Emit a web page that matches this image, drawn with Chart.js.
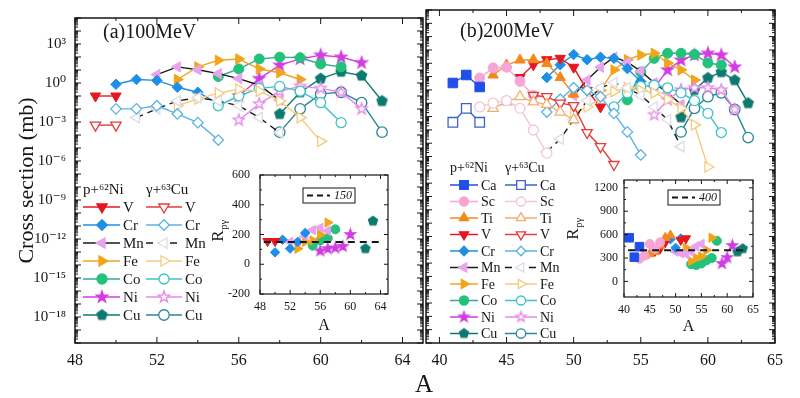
<!DOCTYPE html>
<html>
<head>
<meta charset="utf-8">
<script src="https://cdn.jsdelivr.net/npm/chart.js@4.4.0/dist/chart.umd.min.js"></script>
<style>
  body { margin: 0; background: #fff; }
  #wrap { position: relative; width: 800px; height: 398px; }
  #wrap canvas { position: absolute; left: 0; top: 0; }
</style>
</head>
<body>
<div id="wrap">
  <canvas id="mainA" width="800" height="398"></canvas>
  <canvas id="mainB" width="800" height="398"></canvas>
  <canvas id="insetA" width="800" height="398"></canvas>
  <canvas id="insetB" width="800" height="398"></canvas>
</div>
<script>
// ---- panel (a) 100 MeV : log10(cross section / mb), p+62Ni (p) and gamma+63Cu (g)
const aP100_V = [49, 50];                          const p100_V = [-1.0, -1.0];
const aG100_V = [49, 50];                          const g100_V = [-3.24, -3.24];
const aP100_Cr = [50, 51, 52, 53, 54, 55];         const p100_Cr = [-0.10, 0.27, 0.20, -0.33, -0.71, -1.61];
const aG100_Cr = [50, 51, 52, 53, 54, 55];         const g100_Cr = [-1.99, -1.99, -1.75, -2.38, -3.05, -4.39];
const aP100_Mn = [52, 53, 54, 55, 56, 57, 58];     const p100_Mn = [0.65, 1.24, 1.02, 0.72, 0.34, -0.17, -1.32];
const aG100_Mn = [51, 52, 53, 54, 55, 56, 57, 58]; const g100_Mn = [-2.66, -1.99, -1.38, -1.13, -1.38, -1.75, -2.66, -3.82];
const aP100_Fe = [53, 54, 55, 56, 57, 58, 59];     const p100_Fe = [0.27, 1.24, 1.75, 1.85, 1.08, 0.79, 0.27];
const aG100_Fe = [53, 54, 55, 56, 57, 58, 59, 60]; const g100_Fe = [-1.75, -1.22, -0.78, -0.48, -0.63, -1.38, -2.66, -4.49];
const aP100_Co = [55, 56, 57, 58, 59, 60, 61];     const p100_Co = [0.50, 1.08, 1.85, 1.99, 1.94, 1.46, 1.24];
const aG100_Co = [55, 56, 57, 58, 59, 60, 61];     const g100_Co = [-1.75, -1.0, -0.41, -0.26, -0.63, -1.51, -3.05];
const aP100_Ni = [56, 57, 58, 59, 60, 61, 62];     const p100_Ni = [-1.0, 0.34, 1.37, 1.85, 2.14, 1.99, 1.56];
const aG100_Ni = [56, 57, 58, 59, 60, 61, 62];     const g100_Ni = [-2.86, -1.61, -0.63, -0.26, -0.41, -0.71, -1.99];
const aP100_Cu = [58, 59, 60, 61, 62, 63];         const p100_Cu = [-2.38, -0.71, 0.34, 0.87, 0.57, -1.38];
const aG100_Cu = [58, 59, 60, 61, 62, 63];         const g100_Cu = [-3.78, -1.99, -0.84, -0.71, -1.51, -3.78];

// ---- panel (b) 200 MeV
const aP200_Ca = [41, 42, 43];                     const p200_Ca = [-0.48, 0.12, -0.78];
const aG200_Ca = [41, 42, 43];                     const g200_Ca = [-3.43, -2.38, -3.43];
const aP200_Sc = [43, 44, 45, 46, 47];             const p200_Sc = [-0.10, 0.65, 0.70, -0.36, -1.42];
const aG200_Sc = [43, 44, 45, 46, 47, 48];         const g200_Sc = [-2.28, -1.99, -1.80, -2.38, -4.01, -5.74];
const aP200_Ti = [44, 45, 46, 47, 48, 49, 50];     const p200_Ti = [0.12, 0.87, 1.24, 1.27, 0.98, -0.07, -1.32];
const aG200_Ti = [44, 45, 46, 47, 48, 49, 50];     const g200_Ti = [-2.38, -1.90, -1.51, -1.90, -2.09, -2.66, -3.24];
const aP200_V = [46, 47, 48, 49, 50, 51, 52];      const p200_V = [-0.07, 0.89, 1.27, 1.37, 0.70, -1.03, -2.28];
const aG200_V = [47, 48, 49, 50, 51, 52, 53];      const g200_V = [-1.42, -1.51, -1.99, -2.18, -4.20, -5.26, -6.6];
const aP200_Cr = [48, 49, 50, 51, 52, 53, 54, 55]; const p200_Cr = [-0.07, 0.89, 1.66, 1.27, 1.46, 1.37, 0.60, -0.36];
const aG200_Cr = [48, 49, 50, 51, 52, 53, 54, 55]; const g200_Cr = [-2.66, -1.70, -0.84, -1.03, -1.51, -2.76, -4.15, -5.88];
const aP200_Mn = [50, 51, 52, 53, 54, 55, 56, 57, 58];
const p200_Mn = [-1.42, -0.26, 0.70, 1.46, 1.08, 0.41, -0.46, -1.22, -2.09];
const aG200_Mn = [48, 49, 50, 51, 52, 53, 54, 55, 56, 57, 58];
const g200_Mn = [-5.64, -4.68, -3.24, -1.80, -0.84, -0.46, -0.84, -1.42, -2.28, -3.24, -5.26];
const aP200_Fe = [52, 53, 54, 55, 56, 57, 58, 59]; const p200_Fe = [-1.03, 0.50, 1.27, 1.62, 1.75, 1.02, 0.50, -0.26];
const aG200_Fe = [50, 51, 52, 53, 54, 55, 56, 57, 58, 59, 60];
const g200_Fe = [-2.76, -2.28, -1.61, -1.13, -0.84, -1.03, -1.22, -1.70, -2.38, -3.62, -6.79];
const aP200_Co = [54, 55, 56, 57, 58, 59, 60, 61]; const p200_Co = [-1.75, 0.34, 1.37, 1.75, 1.75, 1.66, 1.02, 0.87];
const aG200_Co = [53, 54, 55, 56, 57, 58, 59, 60, 61];
const g200_Co = [-2.28, -1.22, -0.74, -0.65, -0.84, -1.22, -1.80, -2.76, -4.20];
const aP200_Ni = [56, 57, 58, 59, 60, 61, 62];     const p200_Ni = [-0.84, 0.50, 1.24, 1.62, 1.75, 1.62, 0.72];
const aG200_Ni = [56, 57, 58, 59, 60, 61, 62];     const g200_Ni = [-2.86, -1.75, -1.0, -0.84, -0.84, -1.0, -2.47];
const aP200_Cu = [58, 59, 60, 61, 62, 63];         const p200_Cu = [-3.05, -1.0, -0.10, 0.34, -0.26, -1.99];
const aG200_Cu = [58, 59, 60, 61, 62, 63];         const g200_Cu = [-4.15, -2.38, -1.51, -1.22, -2.47, -4.58];

// ---- insets: ratio R_p/gamma
const ia100_V = [49, 50];                 const ir100_V = [155, 155];
const ia100_Cr = [50, 51, 52, 53, 54];    const ir100_Cr = [80, 165, 105, 150, 210];
const ia100_Mn = [52, 53, 54, 55, 56, 57]; const ir100_Mn = [150, 155, 190, 230, 245, 225];
const ia100_Fe = [53, 54, 55, 56, 57];    const ir100_Fe = [105, 150, 160, 200, 280];
const ia100_Co = [55, 56, 57, 58];        const ir100_Co = [125, 160, 175, 235];
const ia100_Ni = [56, 57, 58, 59, 60];    const ir100_Ni = [90, 105, 110, 120, 200];
const ia100_Cu = [62, 63];                const ir100_Cu = [105, 290];
const ref100 = 150;  const refSpan100 = [48.5, 64.0];

const ia200_Ca = [41, 42, 43];             const ir200_Ca = [560, 310, 445];
const ia200_Sc = [43, 44, 45, 46, 47];     const ir200_Sc = [290, 330, 480, 420, 500];
const ia200_Ti = [44, 45, 46, 47, 48, 49]; const ir200_Ti = [330, 350, 380, 460, 560, 590];
const ia200_V = [46, 47, 48, 51, 52];      const ir200_V = [390, 420, 500, 530, 550];
const ia200_Cr = [48, 49, 50, 51];         const ir200_Cr = [520, 540, 430, 550];
const ia200_Mn = [50, 51, 52, 53, 54, 55]; const ir200_Mn = [380, 360, 350, 380, 450, 480];
const ia200_Fe = [52, 53, 54, 55, 56, 57]; const ir200_Fe = [430, 260, 300, 320, 400, 560];
const ia200_Co = [53, 54, 55, 56, 57, 58]; const ir200_Co = [220, 210, 230, 270, 300, 520];
const ia200_Ni = [59, 60, 61];             const ir200_Ni = [230, 305, 460];
const ia200_Cu = [62, 63];                 const ir200_Cu = [380, 420];
const ref200 = 400;  const refSpan200 = [40.8, 63.6];

// ---- axis labels
const xTicks100 = [48, 52, 56, 60, 64];
const xTicks200 = [40, 45, 50, 55, 60, 65];
const yDecades = [-20, -19, -18, -17, -16, -15, -14, -13, -12, -11, -10, -9, -8, -7, -6, -5, -4, -3, -2, -1, 0, 1, 2, 3, 4, 5];
const yLabelled = [-18, -15, -12, -9, -6, -3, 0, 3];
const ixTicks100 = [48, 52, 56, 60, 64];   const iyTicks100 = [-200, 0, 200, 400, 600];
const ixTicks200 = [40, 45, 50, 55, 60, 65]; const iyTicks200 = [0, 300, 600, 900, 1200];

const EL100 = ['V', 'Cr', 'Mn', 'Fe', 'Co', 'Ni', 'Cu'];
const EL200 = ['Ca', 'Sc', 'Ti', 'V', 'Cr', 'Mn', 'Fe', 'Co', 'Ni', 'Cu'];

const T100 = {
  V: [aP100_V, p100_V, aG100_V, g100_V], Cr: [aP100_Cr, p100_Cr, aG100_Cr, g100_Cr],
  Mn: [aP100_Mn, p100_Mn, aG100_Mn, g100_Mn], Fe: [aP100_Fe, p100_Fe, aG100_Fe, g100_Fe],
  Co: [aP100_Co, p100_Co, aG100_Co, g100_Co], Ni: [aP100_Ni, p100_Ni, aG100_Ni, g100_Ni],
  Cu: [aP100_Cu, p100_Cu, aG100_Cu, g100_Cu]
};
const T200 = {
  Ca: [aP200_Ca, p200_Ca, aG200_Ca, g200_Ca], Sc: [aP200_Sc, p200_Sc, aG200_Sc, g200_Sc],
  Ti: [aP200_Ti, p200_Ti, aG200_Ti, g200_Ti], V: [aP200_V, p200_V, aG200_V, g200_V],
  Cr: [aP200_Cr, p200_Cr, aG200_Cr, g200_Cr], Mn: [aP200_Mn, p200_Mn, aG200_Mn, g200_Mn],
  Fe: [aP200_Fe, p200_Fe, aG200_Fe, g200_Fe], Co: [aP200_Co, p200_Co, aG200_Co, g200_Co],
  Ni: [aP200_Ni, p200_Ni, aG200_Ni, g200_Ni], Cu: [aP200_Cu, p200_Cu, aG200_Cu, g200_Cu]
};
const I100 = { V: [ia100_V, ir100_V], Cr: [ia100_Cr, ir100_Cr], Mn: [ia100_Mn, ir100_Mn], Fe: [ia100_Fe, ir100_Fe],
  Co: [ia100_Co, ir100_Co], Ni: [ia100_Ni, ir100_Ni], Cu: [ia100_Cu, ir100_Cu] };
const I200 = { Ca: [ia200_Ca, ir200_Ca], Sc: [ia200_Sc, ir200_Sc], Ti: [ia200_Ti, ir200_Ti], V: [ia200_V, ir200_V],
  Cr: [ia200_Cr, ir200_Cr], Mn: [ia200_Mn, ir200_Mn], Fe: [ia200_Fe, ir200_Fe], Co: [ia200_Co, ir200_Co],
  Ni: [ia200_Ni, ir200_Ni], Cu: [ia200_Cu, ir200_Cu] };

// ---- styles (k scales marker size per shape, hs = hollow shape if different)
const FONT = '"Liberation Serif", "Times New Roman", "DejaVu Serif", serif';
const INK = '#161616';
const STY = {
  Ca: { shape: 'rect', k: 1.35, rot: 0, c: '#1f4fe8', h: '#3e62c9' },
  Sc: { shape: 'circle', k: 1, rot: 0, c: '#f5a6d6', h: '#f2c6d8' },
  Ti: { shape: 'triangle', k: 1.2, rot: 0, c: '#f2891e', h: '#f3b06c' },
  V:  { shape: 'triangle', k: 1.2, rot: 180, c: '#e8161e', h: '#e23c3c' },
  Cr: { shape: 'rectRot', k: 1.05, rot: 0, c: '#1d8fe6', h: '#5cb3e3' },
  Mn: { shape: 'triangle', k: 1.2, rot: 270, c: '#e9a2ee', h: '#ffffff', lc: '#1a1a1a', hlc: '#1a1a1a', hb: '#dcdce8', dash: [7, 5] },
  Fe: { shape: 'triangle', k: 1.2, rot: 90, c: '#f0a51c', h: '#f5cb7c' },
  Co: { shape: 'circle', k: 1, rot: 0, c: '#22c27a', h: '#3fc3c6', lc: '#35a89a' },
  Ni: { shape: 'star', k: 1, rot: 0, c: '#d23de2', h: '#e68ae9' },
  Cu: { shape: 'pentagon', hs: 'circle', k: 1.05, rot: 0, c: '#0d7a70', h: '#2b8799' }
};

const imgCache = {};
function markImg(shape, fill, stroke, r) {
  const key = [shape, fill, stroke, r].join('|');
  if (imgCache[key]) return imgCache[key];
  const c = document.createElement('canvas');
  const n = Math.ceil(2 * r + 6);
  c.width = c.height = n;
  const g = c.getContext('2d');
  const cx = n / 2, cy = n / 2;
  g.beginPath();
  if (shape === 'star') {
    for (let i = 0; i < 10; i++) {
      const rr = i % 2 ? r * 0.48 : r * 1.2;
      const ang = -Math.PI / 2 + i * Math.PI / 5;
      g.lineTo(cx + rr * Math.cos(ang), cy + rr * Math.sin(ang));
    }
  } else {
    for (let i = 0; i < 5; i++) {
      const ang = -Math.PI / 2 + i * 2 * Math.PI / 5;
      g.lineTo(cx + r * Math.cos(ang), cy + r * Math.sin(ang));
    }
  }
  g.closePath();
  g.fillStyle = fill; g.fill();
  g.lineWidth = 1.3; g.strokeStyle = stroke; g.stroke();
  imgCache[key] = c;
  return c;
}
function shapeOf(s, filled) { return filled ? s.shape : (s.hs || s.shape); }
function ptStyle(s, filled, r) {
  const sh = shapeOf(s, filled);
  if (sh === 'star' || sh === 'pentagon') {
    return filled ? markImg(sh, s.c, s.c, r * s.k) : markImg(sh, '#ffffff', s.h, r * s.k);
  }
  return sh;
}

const SUP = { '-': '\u207b', '0': '\u2070', '1': '\u00b9', '2': '\u00b2', '3': '\u00b3', '4': '\u2074',
  '5': '\u2075', '6': '\u2076', '7': '\u2077', '8': '\u2078', '9': '\u2079' };
const sup = s => String(s).split('').map(ch => SUP[ch]).join('');

function mainSets(els, tbl, r) {
  const out = [];
  els.forEach(el => {
    const s = STY[el];
    const [ap, p, ag, g] = tbl[el];
    out.push({
      label: el + ' (gamma)',
      data: ag.map((a, i) => ({ x: a, y: Math.pow(10, g[i]) })),
      borderColor: s.hlc || s.h, borderWidth: 1.4, borderDash: s.dash || [],
      pointStyle: ptStyle(s, false, r), pointRotation: s.rot, pointRadius: r * s.k,
      pointBackgroundColor: '#ffffff', pointBorderColor: s.hb || s.h, pointBorderWidth: 1.3
    });
  });
  els.forEach(el => {
    const s = STY[el];
    const [ap, p] = tbl[el];
    out.push({
      label: el + ' (p)',
      data: ap.map((a, i) => ({ x: a, y: Math.pow(10, p[i]) })),
      borderColor: s.lc || s.c, borderWidth: 1.4,
      pointStyle: ptStyle(s, true, r), pointRotation: s.rot, pointRadius: r * s.k,
      pointBackgroundColor: s.c, pointBorderColor: s.c, pointBorderWidth: 1
    });
  });
  return out;
}

function insetSets(els, tbl, ref, span, r) {
  const out = [{
    label: 'ref',
    data: span.map(a => ({ x: a, y: ref })),
    borderColor: INK, borderWidth: 2, borderDash: [7, 5], pointRadius: 0
  }];
  els.forEach(el => {
    const s = STY[el];
    const [a, v] = tbl[el];
    out.push({
      label: el,
      data: a.map((x, i) => ({ x: x, y: v[i] })),
      showLine: false,
      pointStyle: ptStyle(s, true, r), pointRotation: s.rot, pointRadius: r * s.k,
      pointBackgroundColor: s.c, pointBorderColor: s.c, pointBorderWidth: 1
    });
  });
  return out;
}

// frame with inward ticks on all four sides
const frameTicks = {
  id: 'frameTicks',
  beforeDatasetsDraw(chart, args, o) {
    if (!o.whiteBg) return;
    const ca = chart.chartArea, ctx = chart.ctx;
    ctx.save(); ctx.fillStyle = '#fff';
    ctx.fillRect(ca.left, ca.top, ca.right - ca.left, ca.bottom - ca.top);
    ctx.restore();
  },
  afterDraw(chart, args, o) {
    if (!o.xMajor) return;
    const { ctx, chartArea: ca, scales } = chart;
    ctx.save();
    ctx.strokeStyle = INK;
    ctx.lineWidth = o.tw || 1;
    const seg = (x1, y1, x2, y2) => { ctx.beginPath(); ctx.moveTo(x1, y1); ctx.lineTo(x2, y2); ctx.stroke(); };
    const xt = (vals, len) => vals.forEach(v => {
      const px = scales.x.getPixelForValue(v);
      if (px < ca.left - 0.5 || px > ca.right + 0.5) return;
      seg(px, ca.bottom, px, ca.bottom - len); seg(px, ca.top, px, ca.top + len);
    });
    const yt = (vals, len) => vals.forEach(v => {
      const py = scales.y.getPixelForValue(v);
      if (py < ca.top - 0.5 || py > ca.bottom + 0.5) return;
      seg(ca.left, py, ca.left + len, py); seg(ca.right, py, ca.right - len, py);
    });
    xt(o.xMajor, o.major); xt(o.xMinor || [], o.minor);
    yt(o.yMajor, o.major); yt(o.yMinor || [], o.minor);
    ctx.lineWidth = o.lw || 1.5;
    ctx.strokeRect(ca.left, ca.top, ca.right - ca.left, ca.bottom - ca.top);
    ctx.restore();
  }
};

// legend keys, captions and small boxes
const extras = {
  id: 'extras',
  afterDraw(chart, args, o) {
    const ctx = chart.ctx;
    ctx.save();
    (o.texts || []).forEach(t => {
      ctx.save();
      ctx.font = (t.italic ? 'italic ' : '') + t.size + 'px ' + FONT;
      ctx.fillStyle = INK;
      ctx.textAlign = t.align || 'left';
      ctx.textBaseline = 'middle';
      ctx.translate(t.x, t.y);
      if (t.rot) ctx.rotate(t.rot);
      ctx.fillText(t.text, 0, 0);
      if (t.sub) {
        const w = ctx.measureText(t.text).width;
        ctx.font = (t.size * 0.62) + 'px ' + FONT;
        const off = t.align === 'center' ? w / 2 : w;
        ctx.textAlign = 'left';
        ctx.fillText(t.sub, off + 0.5, t.size * 0.3);
      }
      ctx.restore();
    });
    if (o.box) {
      const b = o.box;
      ctx.strokeStyle = INK; ctx.lineWidth = 1;
      ctx.strokeRect(b.x, b.y, b.w, b.h);
      ctx.lineWidth = 2; ctx.setLineDash([6, 4]);
      ctx.beginPath(); ctx.moveTo(b.x + 4, b.y + b.h / 2); ctx.lineTo(b.x + 27, b.y + b.h / 2); ctx.stroke();
      ctx.setLineDash([]);
      ctx.font = 'italic 12px ' + FONT; ctx.fillStyle = INK; ctx.textBaseline = 'middle'; ctx.textAlign = 'left';
      ctx.fillText(b.text, b.x + 31, b.y + b.h / 2 + 0.5);
    }
    if (o.key) {
      const k = o.key;
      ctx.font = k.size + 'px ' + FONT; ctx.fillStyle = INK; ctx.textBaseline = 'middle'; ctx.textAlign = 'left';
      ctx.fillText('p+' + sup(62) + 'Ni', k.c1[0], k.hy);
      ctx.fillText('\u03b3+' + sup(63) + 'Cu', k.c2[0], k.hy);
      k.els.forEach((el, i) => {
        const s = STY[el];
        const y = k.y0 + i * k.dy;
        [[k.c1, true], [k.c2, false]].forEach(([c, filled]) => {
          ctx.save();
          ctx.strokeStyle = filled ? (s.lc || s.c) : (s.hlc || s.h);
          ctx.lineWidth = 1.5;
          if (!filled && s.dash) ctx.setLineDash(s.dash);
          ctx.beginPath(); ctx.moveTo(c[0], y); ctx.lineTo(c[1], y); ctx.stroke();
          ctx.setLineDash([]);
          ctx.fillStyle = filled ? s.c : '#ffffff';
          ctx.strokeStyle = filled ? s.c : (s.hb || s.h);
          ctx.lineWidth = 1.3;
          Chart.helpers.drawPoint(ctx, { pointStyle: ptStyle(s, filled, k.r), rotation: s.rot, radius: k.r * s.k, borderWidth: 1.3 }, c[2], y);
          ctx.restore();
          ctx.fillStyle = INK;
          ctx.fillText(el, c[3], y + 1);
        });
      });
    }
    ctx.restore();
  }
};
Chart.register(frameTicks, extras);

const logMinor = [];
yDecades.forEach(e => { for (let k = 2; k <= 9; k++) logMinor.push(k * Math.pow(10, e)); });
const yMajorVals = yDecades.map(e => Math.pow(10, e));
const range = (a, b, st) => { const r = []; for (let v = a; v <= b + 1e-9; v += st) r.push(v); return r; };

const baseOpts = () => ({
  responsive: false, animation: false, events: [],
  plugins: { legend: { display: false }, tooltip: { enabled: false } }
});
const tickFont = sz => ({ family: FONT, size: sz });

function logY(show) {
  return {
    type: 'logarithmic', min: 1e-20, max: 1e5, display: show,
    afterBuildTicks: s => { s.ticks = yMajorVals.map(v => ({ value: v })); },
    afterFit: s => { s.width = show ? 75 : 0; },
    grid: { display: false, drawTicks: false }, border: { display: false },
    ticks: {
      autoSkip: false, padding: 9, color: INK, font: tickFont(15),
      callback: v => { const e = Math.round(Math.log10(v)); return yLabelled.includes(e) ? '10' + sup(e) : ''; }
    },
    title: { display: show, text: 'Cross section (mb)', color: INK, font: tickFont(22), padding: { top: 14, bottom: 0 } }
  };
}
function linX(min, max, ticks, h, pad, size, title) {
  return {
    type: 'linear', min: min, max: max,
    afterBuildTicks: s => { s.ticks = ticks.map(v => ({ value: v })); },
    afterFit: s => { s.height = h; },
    grid: { display: false, drawTicks: false }, border: { display: false },
    ticks: { autoSkip: false, maxRotation: 0, padding: pad, color: INK, font: tickFont(size), callback: v => String(v) },
    title: title || { display: false }
  };
}

// ---- (a) main panel
const optA = baseOpts();
optA.layout = { padding: { left: 0, top: 10, right: 377, bottom: 0 } };
optA.scales = { x: linX(48, 65, xTicks100, 55, 8, 16), y: logY(true) };
optA.plugins.frameTicks = { xMajor: xTicks100, xMinor: range(50, 62, 4), yMajor: yMajorVals, yMinor: logMinor, major: 6, minor: 3 };
optA.plugins.extras = {
  texts: [
    { text: '(a)100MeV', x: 103, y: 33, size: 20 },
    { text: 'A', x: 424, y: 385, size: 25, align: 'center' }
  ],
  key: { els: EL100, hy: 190, y0: 207, dy: 18, size: 15, r: 5, c1: [83, 120, 102, 123], c2: [146, 182, 164, 185] }
};
new Chart('mainA', { type: 'line', data: { datasets: mainSets(EL100, T100, 5) }, options: optA });

// ---- (b) main panel
const optB = baseOpts();
optB.layout = { padding: { left: 426, top: 10, right: 25, bottom: 0 } };
optB.scales = { x: linX(39, 65, xTicks200, 55, 8, 16), y: logY(false) };
optB.plugins.frameTicks = { xMajor: xTicks200, xMinor: range(42.5, 62.5, 5), yMajor: yMajorVals, yMinor: logMinor, major: 6, minor: 3 };
optB.plugins.extras = {
  texts: [{ text: '(b)200MeV', x: 460, y: 32, size: 20 }],
  key: { els: EL200, hy: 168, y0: 185, dy: 16.5, size: 14, r: 4.5, c1: [450, 478, 464, 481], c2: [505, 537, 521, 540] }
};
new Chart('mainB', { type: 'line', data: { datasets: mainSets(EL200, T200, 5) }, options: optB });

// ---- insets
function insetOpts(pad, xr, yr, xt, yt, xMinor, yMinor, yPad, titleY, texts, box) {
  const o = baseOpts();
  o.layout = { padding: { left: 0, top: pad.top, right: pad.right, bottom: 0 } };
  o.scales = {
    x: linX(xr[0], xr[1], xt, 398 - pad.bottom, 6, 12,
      { display: true, text: 'A', color: INK, font: tickFont(16), padding: { top: 0, bottom: titleY } }),
    y: {
      type: 'linear', min: yr[0], max: yr[1],
      afterBuildTicks: s => { s.ticks = yt.map(v => ({ value: v })); },
      afterFit: s => { s.width = pad.left; },
      grid: { display: false, drawTicks: false }, border: { display: false },
      ticks: { autoSkip: false, padding: yPad, color: INK, font: tickFont(12), callback: v => String(v) }
    }
  };
  o.plugins.frameTicks = { whiteBg: true, xMajor: xt, xMinor: xMinor, yMajor: yt, yMinor: yMinor, major: 4, minor: 2, lw: 1.2 };
  o.plugins.extras = { texts: texts, box: box };
  return o;
}
new Chart('insetA', {
  type: 'line',
  data: { datasets: insetSets(EL100, I100, ref100, refSpan100, 4.5) },
  options: insetOpts({ left: 260, top: 175, right: 412, bottom: 294 }, [48, 65], [-200, 600],
    ixTicks100, iyTicks100, range(50, 62, 4), range(-100, 500, 200), 10, 63,
    [{ text: 'R', sub: 'p\u03b3', x: 219, y: 236, size: 17, align: 'center', rot: -Math.PI / 2 }],
    { x: 303, y: 188, w: 52, h: 15, text: String(ref100) })
});
new Chart('insetB', {
  type: 'line',
  data: { datasets: insetSets(EL200, I200, ref200, refSpan200, 4.5) },
  options: insetOpts({ left: 624, top: 180, right: 47, bottom: 297 }, [40, 65], [-200, 1300],
    ixTicks200, iyTicks200, range(42.5, 62.5, 5), range(150, 1050, 300), 6, 62,
    [{ text: 'R', sub: 'p\u03b3', x: 574, y: 234, size: 17, align: 'center', rot: -Math.PI / 2 }],
    { x: 668, y: 190, w: 52, h: 15, text: String(ref200) })
});
</script>
</body>
</html>
